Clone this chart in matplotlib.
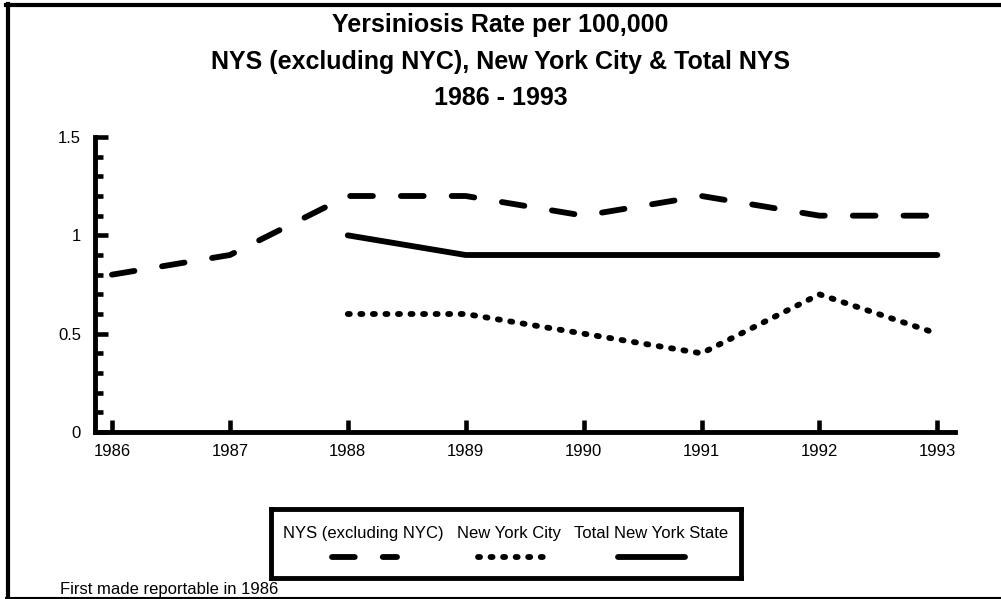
import matplotlib
matplotlib.use("Agg")
import matplotlib.pyplot as plt
from matplotlib.lines import Line2D

plt.rcParams['font.family'] = ['Liberation Sans', 'DejaVu Sans']

# data
years = [1986, 1987, 1988, 1989, 1990, 1991, 1992, 1993]
nys_excl = [0.8, 0.9, 1.2, 1.2, 1.1, 1.2, 1.1, 1.1]
nyc_years = [1988, 1989, 1990, 1991, 1992, 1993]
nyc = [0.6, 0.6, 0.5, 0.4, 0.7, 0.5]
total_years = [1988, 1989, 1990, 1991, 1992, 1993]
total = [1.0, 0.9, 0.9, 0.9, 0.9, 0.9]
labels = ["NYS (excluding NYC)", "New York City", "Total New York State"]

W, H = 1001, 599
fig = plt.figure(figsize=(W / 100, H / 100), dpi=100)

# figure border (left, top, bottom)
fig.add_artist(Line2D([7.5 / W, 7.5 / W], [0, 1 - 4 / H], color='black', lw=3))
fig.add_artist(Line2D([6 / W, 1], [1 - 5 / H, 1 - 5 / H], color='black', lw=3))
fig.add_artist(Line2D([6 / W, 1], [1 - 597.5 / H, 1 - 597.5 / H], color='black', lw=1.5))

ax = fig.add_axes([95 / W, 1 - 432 / H, (955 - 95) / W, (432 - 137) / H])

lw = 4.2
dash_style = dict(color='black', lw=lw, dashes=(3.9, 4.8), dash_capstyle='round', solid_capstyle='round')
dot_style = dict(color='black', lw=lw, dashes=(0.35, 1.8), dash_capstyle='round')
solid_style = dict(color='black', lw=lw, solid_capstyle='round')

ax.plot(years, nys_excl, **dash_style)
ax.plot(nyc_years, nyc, **dot_style)
ax.plot(total_years, total, **solid_style)

ax.set_xlim(1985.856, 1993.15)
ax.set_ylim(0, 1.5)
ax.set_xticks(years)
ax.set_yticks([0, 0.5, 1, 1.5])
ax.set_yticklabels(['0', '0.5', '1', '1.5'])
ax.set_yticks([i / 10 for i in range(16)], minor=True)
ax.tick_params(axis='y', which='major', direction='in', length=9, width=3.3, pad=10, labelsize=12)
ax.tick_params(axis='y', which='minor', direction='in', length=6, width=3.3)
ax.tick_params(axis='x', direction='in', length=9, width=3.3, pad=9, labelsize=12)
for s in ['top', 'right']:
    ax.spines[s].set_visible(False)
for s in ['left', 'bottom']:
    ax.spines[s].set_linewidth(3.5)
ax.patch.set_visible(False)

# title
fig.text(0.5, 1 - 32 / H, "Yersiniosis Rate per 100,000", ha='center', va='baseline',
         fontsize=18, fontweight='bold')
fig.text(0.5, 1 - 68.5 / H, "NYS (excluding NYC), New York City & Total NYS", ha='center',
         va='baseline', fontsize=18, fontweight='bold')
fig.text(0.5, 1 - 105 / H, "1986 - 1993", ha='center', va='baseline',
         fontsize=18, fontweight='bold')

# legend box: labels above line samples
lax = fig.add_axes([271 / W, 1 - 578 / H, 470 / W, 69 / H])
lax.set_xlim(0, 1)
lax.set_ylim(0, 1)
lax.set_xticks([])
lax.set_yticks([])
for s in lax.spines.values():
    s.set_linewidth(3.5)
styles = [dash_style, dot_style, solid_style]
centers = [0.196, 0.507, 0.809]
spans = [(0.13, 0.268), (0.44, 0.579), (0.738, 0.881)]
for lab, st, c, sp in zip(labels, styles, centers, spans):
    lax.text(c, 0.65, lab, ha='center', va='center', fontsize=12)
    lax.plot(sp, [0.30, 0.30], **st)

fig.text(60 / W, 1 - 594 / H, "First made reportable in 1986", ha='left', va='baseline', fontsize=12)

fig.savefig("out.png", dpi=100)
